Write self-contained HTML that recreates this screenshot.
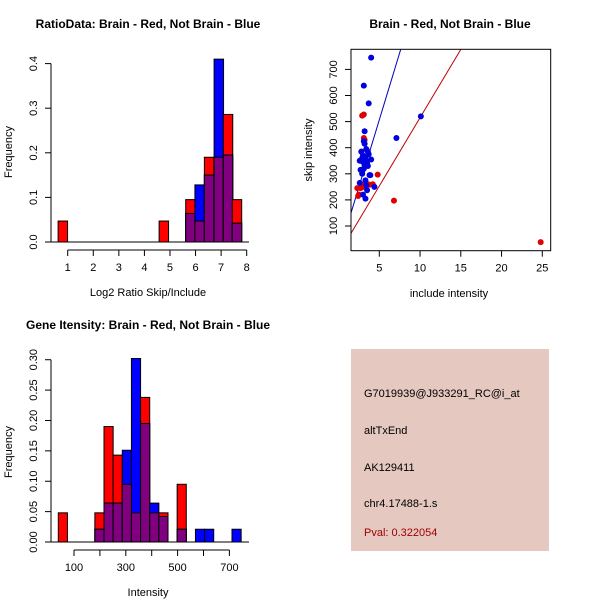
<!DOCTYPE html>
<html><head><meta charset="utf-8"><style>
html,body{margin:0;padding:0;background:#fff;}
svg{display:block;font-family:"Liberation Sans",Arial,sans-serif;}
</style></head><body>
<svg id="chart" width="600" height="600" viewBox="0 0 600 600">
<rect x="0" y="0" width="600" height="600" fill="#fff"/>
<text x="148" y="28" text-anchor="middle" font-size="12" font-weight="bold">RatioData: Brain - Red, Not Brain - Blue</text>
<text x="450" y="28" text-anchor="middle" font-size="12" font-weight="bold">Brain - Red, Not Brain - Blue</text>
<text x="148" y="329" text-anchor="middle" font-size="12" font-weight="bold">Gene Itensity: Brain - Red, Not Brain - Blue</text>
<g id="p1"></g>
<g id="p2"></g>
<g id="p3"></g>
<g>
<rect x="351" y="349" width="198" height="202" fill="#e5c8c0"/>
<text x="364" y="397" font-size="11">G7019939@J933291_RC@i_at</text>
<text x="364" y="434" font-size="11">altTxEnd</text>
<text x="364" y="471" font-size="11">AK129411</text>
<text x="364" y="507" font-size="11">chr4.17488-1.s</text>
<text x="364" y="536" font-size="11" fill="#a00000">Pval: 0.322054</text>
</g>
</svg>
<script>
// Ratio histogram data
const ratioCenters = [0.81, 4.76, 5.8, 6.16, 6.53, 6.91, 7.27, 7.62];
const ratioWidth = 0.37;
const ratioRed = [0.047, 0.047, 0.095, 0.047, 0.19, 0.19, 0.286, 0.095];
const ratioBlue = [0, 0, 0.064, 0.128, 0.15, 0.41, 0.195, 0.042];
const ratioXTicks = [1,2,3,4,5,6,7,8];
const ratioYTicks = [0, 0.1, 0.2, 0.3, 0.4];
const ratioYLabels = ["0.0","0.1","0.2","0.3","0.4"];
// Intensity histogram data
const intStart = 57;
const intWidth = 35.3;
const intRed = [0.048,0,0,0,0.048,0.19,0.143,0.095,0.048,0.238,0.048,0.048,0,0.095,0,0,0,0,0,0];
const intBlue = [0,0,0,0,0.021,0.064,0.064,0.151,0.302,0.195,0.064,0.042,0,0.021,0,0.021,0.021,0,0,0.021];
const intXTicks = [100,200,300,400,500,600,700];
const intXLabels = ["100","","300","","500","","700"];
const intYTicks = [0,0.05,0.1,0.15,0.2,0.25,0.3];
const intYLabels = ["0.00","0.05","0.10","0.15","0.20","0.25","0.30"];
// Scatter data
const blueX = [4.0,3.1,3.7,10.1,7.1,3.2,3.1,3.2,3.4,3.6,2.8,3.0,3.3,4.0,2.6,3.0,3.5,3.2,3.6,2.7,2.9,3.8,3.9,3.3,2.6,3.4,4.4,3.5,3.0,3.3,2.9,3.1,3.4,3.7,2.9];
const blueY = [745,638,570,520,437,463,425,415,395,385,385,370,365,355,350,345,340,330,330,315,310,295,295,275,265,255,250,237,220,205,300,320,350,375,360];
const redX = [2.9,3.1,3.1,3.2,2.8,4.8,3.3,3.6,4.2,3.0,2.3,2.7,6.8,24.8,2.4,2.5,3.8,3.1];
const redY = [523,527,437,430,385,297,265,260,260,255,245,245,197,38,215,220,258,250];
const blueLine = [-7.3, 102.8];
const redLine = [-8, 52.3];
const scXTicks = [5,10,15,20,25];
const scYTicks = [100,200,300,400,500,600,700];

const NS = "http://www.w3.org/2000/svg";
function mk(parent, tag, attrs){const e=document.createElementNS(NS,tag);for(const k in attrs)e.setAttribute(k,attrs[k]);parent.appendChild(e);return e;}

function hist(g, xs, ys, centers, w, red, blue, xTicks, xLabels, yTicks, yLabels, xLineY, labelX0, labelX1, baseY, xTitle, yTitleY, yAxisX){
  for(let i=0;i<centers.length;i++){
    const x0=xs(centers[i]-w/2), x1=xs(centers[i]+w/2);
    const r=red[i], b=blue[i], m=Math.min(r,b);
    if(r>0){const e=mk(g,'rect',{x:x0,y:ys(r),width:x1-x0,height:ys(0)-ys(r),fill:'#ff0000',stroke:'#000','stroke-width':1});
      
      }
    if(b>0){const e=mk(g,'rect',{x:x0,y:ys(b),width:x1-x0,height:ys(0)-ys(b),fill:'#0000ff',stroke:'#000','stroke-width':1});
      
      }
    if(m>0){const e=mk(g,'rect',{x:x0,y:ys(m),width:x1-x0,height:ys(0)-ys(m),fill:'#800080',stroke:'#000','stroke-width':1});
      
      }
  }
  mk(g,'line',{x1:labelX0,y1:ys(0),x2:labelX1,y2:ys(0),stroke:'#000'});
  mk(g,'line',{x1:xs(xTicks[0]),y1:xLineY,x2:xs(xTicks[xTicks.length-1]),y2:xLineY,stroke:'#000'});
  xTicks.forEach((t,i)=>{
    mk(g,'line',{x1:xs(t),y1:xLineY,x2:xs(t),y2:xLineY+6,stroke:'#000'});
    const tx=mk(g,'text',{x:xs(t),y:xLineY+21,'text-anchor':'middle','font-size':11});
    tx.textContent=xLabels[i];
    
    
  });
  mk(g,'line',{x1:yAxisX,y1:ys(yTicks[0]),x2:yAxisX,y2:ys(yTicks[yTicks.length-1]),stroke:'#000'});
  yTicks.forEach((t,i)=>{
    mk(g,'line',{x1:yAxisX,y1:ys(t),x2:yAxisX-6,y2:ys(t),stroke:'#000'});
    const tx=mk(g,'text',{x:0,y:0,'text-anchor':'middle','font-size':11,transform:`translate(${yAxisX-14},${ys(t)}) rotate(-90)`});
    tx.textContent=yLabels[i];
    
    
  });
  const xt=mk(g,'text',{x:148,y:xLineY+46,'text-anchor':'middle','font-size':11});
  xt.textContent=xTitle;
  
  
  const yt=mk(g,'text',{x:0,y:0,'text-anchor':'middle','font-size':11,transform:`translate(12,${yTitleY}) rotate(-90)`});
  yt.textContent='Frequency';
  
  
}

// Plot 1
{
  const g=document.getElementById('p1');
  const xs=v=>67.7+(v-1)*25.57;
  const ys=v=>242-v*446;
  hist(g,xs,ys,ratioCenters,ratioWidth,ratioRed,ratioBlue,ratioXTicks,ratioXTicks.map(String),ratioYTicks,ratioYLabels,250,51,249,242,'Log2 Ratio Skip/Include',152,51);
}
// Plot 2
{
  const g=document.getElementById('p2');
  const xs=v=>74+(v-100)*0.259;
  const ys=v=>542-v*607.6;
  const centers=intRed.map((_,i)=>intStart+i*intWidth);
  hist(g,xs,ys,centers,intWidth,intRed,intBlue,intXTicks,intXLabels,intYTicks,intYLabels,550,51,249,542,'Intensity',452,51);
}
// Plot 3
{
  const g=document.getElementById('p3');
  const L=351,R=550.7,T=49.3,B=250.7;
  const xs=v=>379.3+(v-5)*8.15;
  const ys=v=>226-(v-100)*0.261;
  const cp=mk(g,'clipPath',{id:'clip3'});
  mk(cp,'rect',{x:L,y:T,width:R-L,height:B-T});
  const inner=mk(g,'g',{'clip-path':'url(#clip3)'});
  const x0=1.5,x1=26;
  const bl=mk(inner,'line',{x1:xs(x0),y1:ys(blueLine[0]+blueLine[1]*x0),x2:xs(x1),y2:ys(blueLine[0]+blueLine[1]*x1),stroke:'#0000c0'});
  
  
  const rl=mk(inner,'line',{x1:xs(x0),y1:ys(redLine[0]+redLine[1]*x0),x2:xs(x1),y2:ys(redLine[0]+redLine[1]*x1),stroke:'#c00000'});
  
  
  redX.forEach((x,i)=>{const c=mk(inner,'circle',{cx:xs(x),cy:ys(redY[i]),r:3,fill:'#e00000'});
    
    });
  blueX.forEach((x,i)=>{const c=mk(inner,'circle',{cx:xs(x),cy:ys(blueY[i]),r:3,fill:'#0000e0'});
    
    });
  mk(g,'rect',{x:L,y:T,width:R-L,height:B-T,fill:'none',stroke:'#000'});
  scXTicks.forEach(t=>{
    mk(g,'line',{x1:xs(t),y1:B,x2:xs(t),y2:B+6,stroke:'#000'});
    const tx=mk(g,'text',{x:xs(t),y:B+21,'text-anchor':'middle','font-size':11});
    tx.textContent=String(t);
    
    
  });
  scYTicks.forEach(t=>{
    mk(g,'line',{x1:L,y1:ys(t),x2:L-6,y2:ys(t),stroke:'#000'});
    const tx=mk(g,'text',{x:0,y:0,'text-anchor':'middle','font-size':11,transform:`translate(${L-14},${ys(t)}) rotate(-90)`});
    tx.textContent=String(t);
    
    
  });
  const xt=mk(g,'text',{x:449,y:297,'text-anchor':'middle','font-size':11});
  xt.textContent='include intensity';
  
  
  const yt=mk(g,'text',{x:0,y:0,'text-anchor':'middle','font-size':11,transform:`translate(312,150) rotate(-90)`});
  yt.textContent='skip intensity';
  
  
}
</script>
</body></html>
